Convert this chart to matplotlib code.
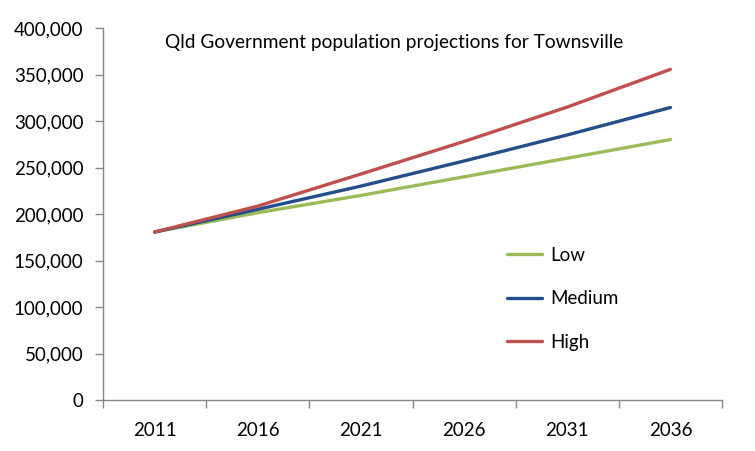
import matplotlib.pyplot as plt
from matplotlib.ticker import FuncFormatter

# Population projections
years = ['2011', '2016', '2021', '2026', '2031', '2036']
low = [180600, 201400, 220000, 240000, 260000, 280000]
medium = [180600, 205000, 230000, 257000, 285000, 314500]
high = [180600, 208500, 243000, 278000, 315000, 355500]

plt.rcParams['font.family'] = ['Lato', 'DejaVu Sans']

fig = plt.figure(figsize=(7.55, 4.51), dpi=100)
ax = fig.add_axes([103 / 755, 1 - 400 / 451, (722 - 103) / 755, (400 - 28) / 451])

x = range(len(years))
ax.plot(x, low, color='#9BBB59', lw=2.4, label='Low', solid_capstyle='round')
ax.plot(x, medium, color='#234E8A', lw=2.4, label='Medium', solid_capstyle='round')
ax.plot(x, high, color='#C0504D', lw=2.4, label='High', solid_capstyle='round')

ax.set_xlim(-0.5, len(years) - 0.5)
ax.set_ylim(0, 400000)
ax.set_xticks(list(x))
ax.set_xticklabels(years, fontsize=13.5)
ax.set_xticks([i - 0.5 for i in range(len(years) + 1)], minor=True)
ax.tick_params(axis='x', which='major', length=0, pad=16)
ax.tick_params(axis='x', which='minor', length=6, color='#888888', width=1)
ax.set_yticks(range(0, 400001, 50000))
ax.yaxis.set_major_formatter(FuncFormatter(lambda v, p: f'{int(v):,}'))
ax.tick_params(axis='y', length=6, color='#888888', width=1, labelsize=13.5, pad=8)

for s in ['top', 'right']:
    ax.spines[s].set_visible(False)
for s in ['left', 'bottom']:
    ax.spines[s].set_color('#888888')
    ax.spines[s].set_linewidth(1)

ax.text(0.1, 0.962, 'Qld Government population projections for Townsville',
        transform=ax.transAxes, fontsize=13.8, va='center', ha='left')

ax.legend(loc='upper left', bbox_to_anchor=(0.64, 0.432), frameon=False,
          fontsize=13.5, handlelength=1.9, handletextpad=0.4, labelspacing=1.42,
          borderaxespad=0)

plt.savefig('out.png', dpi=100)
